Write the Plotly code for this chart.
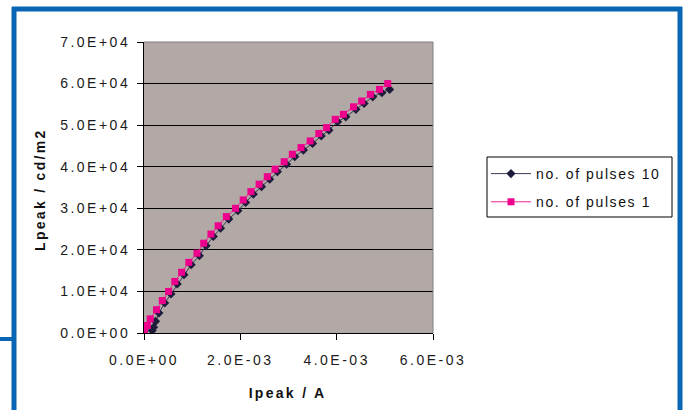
import plotly.graph_objects as go

# ---- data (I in mA, L in 1e4 cd/m2) ----
pulses1_I_mA = [0.01, 0.07, 0.13, 0.26, 0.38, 0.51, 0.64, 0.78, 0.93, 1.10, 1.24, 1.39, 1.54, 1.71, 1.90,
                2.06, 2.22, 2.39, 2.56, 2.72, 2.91, 3.08, 3.26, 3.45, 3.63, 3.79, 3.97, 4.14, 4.35, 4.52,
                4.70, 4.89, 5.06]
pulses1_L_1e4 = [0.03, 0.18, 0.34, 0.56, 0.78, 1.00, 1.24, 1.46, 1.70, 1.92, 2.16, 2.38, 2.58, 2.80, 3.00,
                 3.20, 3.40, 3.58, 3.76, 3.94, 4.12, 4.30, 4.46, 4.62, 4.80, 4.94, 5.14, 5.26, 5.44, 5.58,
                 5.74, 5.86, 6.00]
pulses10_I_mA = [0.17, 0.20, 0.24, 0.31, 0.43, 0.56, 0.69, 0.83, 0.98, 1.15, 1.29, 1.44, 1.59, 1.76, 1.95,
                 2.11, 2.27, 2.44, 2.61, 2.77, 2.96, 3.13, 3.31, 3.50, 3.68, 3.84, 4.02, 4.19, 4.40, 4.57,
                 4.75, 4.94, 5.10]
pulses10_L_1e4 = [0.06, 0.14, 0.28, 0.48, 0.72, 0.94, 1.18, 1.40, 1.64, 1.86, 2.10, 2.32, 2.52, 2.74, 2.94,
                  3.14, 3.34, 3.52, 3.70, 3.88, 4.06, 4.24, 4.40, 4.56, 4.74, 4.88, 5.08, 5.20, 5.38, 5.52,
                  5.68, 5.78, 5.86]

series_names = ["no. of pulses 10", "no. of pulses 1"]
x_tickvals = [0, 0.002, 0.004, 0.006]
x_ticktext = ["0.0E+00", "2.0E-03", "4.0E-03", "6.0E-03"]
y_tickvals = [0, 10000, 20000, 30000, 40000, 50000, 60000, 70000]
y_ticktext = ["0.0E+00", "1.0E+04", "2.0E+04", "3.0E+04", "4.0E+04", "5.0E+04", "6.0E+04", "7.0E+04"]

x10 = [v * 1e-3 for v in pulses10_I_mA]
y10 = [v * 1e4 for v in pulses10_L_1e4]
x1 = [v * 1e-3 for v in pulses1_I_mA]
y1 = [v * 1e4 for v in pulses1_L_1e4]

FONT = "Liberation Sans, Arial, sans-serif"
BLUE = "#0866B4"
PINK = "#EC008C"

fig = go.Figure()
fig.add_trace(go.Scatter(x=x10, y=y10, name=series_names[0], mode="lines+markers", legendgroup="a",
                         line=dict(color="#3A3A58", width=1),
                         marker=dict(symbol="diamond", size=7, color="#1C1C3A")))
fig.add_trace(go.Scatter(x=x1, y=y1, name=series_names[1], mode="lines+markers", legendgroup="b",
                         line=dict(color="#F0209A", width=1),
                         marker=dict(symbol="square", size=7, color=PINK)))

def px2x(px):
    return (px - 144) / 289.0

def py2y(py):
    return (333 - py) / 291.0

shapes = []
# plot area border top/right (grey)
shapes.append(dict(type="line", xref="paper", yref="paper", x0=0, x1=1, y0=1, y1=1,
                   line=dict(color="#808080", width=1)))
shapes.append(dict(type="line", xref="paper", yref="paper", x0=1, x1=1, y0=0, y1=1,
                   line=dict(color="#808080", width=1)))
# legend box
shapes.append(dict(type="rect", xref="paper", yref="paper", x0=px2x(487), x1=px2x(672),
                   y0=py2y(217), y1=py2y(157), line=dict(color="#000000", width=1)))
# blue frame
shapes.append(dict(type="line", xref="paper", yref="paper", x0=px2x(12), x1=px2x(682),
                   y0=py2y(9), y1=py2y(9), line=dict(color=BLUE, width=5)))
shapes.append(dict(type="line", xref="paper", yref="paper", x0=px2x(14), x1=px2x(14),
                   y0=py2y(7), y1=py2y(412), line=dict(color=BLUE, width=5)))
shapes.append(dict(type="line", xref="paper", yref="paper", x0=px2x(680), x1=px2x(680),
                   y0=py2y(7), y1=py2y(412), line=dict(color=BLUE, width=5)))
shapes.append(dict(type="line", xref="paper", yref="paper", x0=px2x(-2), x1=px2x(14),
                   y0=py2y(339), y1=py2y(339), line=dict(color=BLUE, width=4)))

annotations = [
    dict(text="<b>Ipeak / A</b>", xref="paper", yref="paper", x=px2x(287), y=py2y(393),
         showarrow=False, xanchor="center", yanchor="middle",
         font=dict(family=FONT, size=14, color="#111111")),
    dict(text="<b>Lpeak / cd/m2</b>", xref="paper", yref="paper", x=px2x(40), y=py2y(190),
         showarrow=False, xanchor="center", yanchor="middle", textangle=-90,
         font=dict(family=FONT, size=14, color="#111111")),
]

fig.update_layout(
    width=686, height=410,
    margin=dict(l=144, r=253, t=42, b=77),
    paper_bgcolor="#FFFFFF",
    plot_bgcolor="#B2A9A6",
    showlegend=True,
    legend=dict(x=px2x(486), y=py2y(158), xanchor="left", yanchor="top",
                bgcolor="rgba(0,0,0,0)", borderwidth=0, itemwidth=40,
                tracegroupgap=7,
                font=dict(family=FONT, size=14, color="#111111")),
    shapes=shapes,
    annotations=annotations,
    xaxis=dict(range=[0, 0.006], tickvals=x_tickvals, ticktext=x_ticktext,
               showgrid=False, zeroline=False, showline=True, linecolor="#000000", linewidth=1,
               ticks="outside", ticklen=6, tickcolor="#000000", ticklabelstandoff=8,
               tickfont=dict(family=FONT, size=14, color="#1A1A1A")),
    yaxis=dict(range=[0, 70000], tickvals=y_tickvals, ticktext=y_ticktext,
               showgrid=True, gridcolor="#000000", gridwidth=1.2, zeroline=False,
               showline=True, linecolor="#000000", linewidth=1,
               ticks="outside", ticklen=6, tickcolor="#000000", ticklabelstandoff=4,
               tickfont=dict(family=FONT, size=14, color="#1A1A1A")),
)

post = ("document.body.style.margin='0';document.body.style.padding='0';"
        "var st=document.createElement('style');"
        "st.innerHTML='body{margin:0 !important}.xtick text,.ytick text{letter-spacing:2.5px}"
        ".legendtext{letter-spacing:1.6px}.annotation-text{letter-spacing:2.3px}"
        ".legend, .legend *{clip-path:none !important}';"
        "document.head.appendChild(st);")

fig.write_html("out.html", post_script=post, config={"displayModeBar": False})
